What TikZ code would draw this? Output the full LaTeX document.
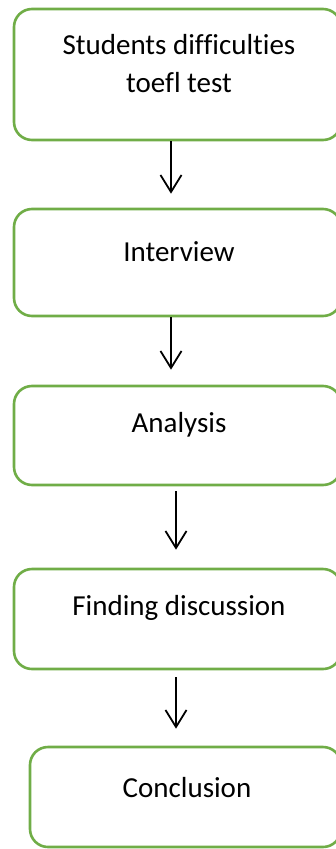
\documentclass[tikz,border=0pt]{standalone}
\usepackage{fontspec}
\setmainfont{Carlito}[Ligatures=CommonOff]
\usetikzlibrary{arrows.meta}
\definecolor{flowGreen}{HTML}{70AD47}
\tikzset{
  flow box/.style={draw=flowGreen, line width=2.6pt, rounded corners=18pt, fill=white},
  flow text/.style={font=\fontsize{29}{38}\selectfont, text=black, align=center, inner sep=0pt},
  flow arrow/.style={draw=black, line width=1.8pt, -{Straight Barb[length=17pt, width=21pt, line width=1.8pt]}},
}

\begin{document}
\begin{tikzpicture}[x=1pt, y=-1pt]
  \useasboundingbox (0,0) rectangle (336,849);
  \clip (0,0) rectangle (336,849);

  % Boxes, top to bottom (right side runs off the page)
  \node[flow box, minimum width=327pt, minimum height=131pt,
        label={[flow text, xshift=1.5pt, yshift=10.5pt]center:Students difficulties\\toefl test}]
    (stud) at (177.5,74.5) {};
  \node[flow box, minimum width=327pt, minimum height=107pt,
        label={[flow text, xshift=1.5pt, yshift=10.5pt]center:Interview}]
    (inter) at (177.5,262.5) {};
  \node[flow box, minimum width=327pt, minimum height=99pt,
        label={[flow text, xshift=1.5pt, yshift=10.5pt]center:Analysis}]
    (anal) at (177.5,435.5) {};
  \node[flow box, minimum width=327pt, minimum height=100pt,
        label={[flow text, xshift=1.5pt, yshift=11pt]center:Finding discussion}]
    (find) at (177.5,619) {};
  \node[flow box, minimum width=311pt, minimum height=100pt,
        label={[flow text, xshift=1.5pt, yshift=9pt]center:Conclusion}]
    (concl) at (185.5,797) {};

  % Arrows between the boxes
  \draw[flow arrow, shorten >=14pt] ([xshift=-6.5pt]stud.south) -- ([xshift=-6.5pt]inter.north);
  \draw[flow arrow, shorten >=15pt] ([xshift=-6.5pt]inter.south) -- ([xshift=-6.5pt]anal.north);
  \draw[flow arrow, shorten <=5pt, shorten >=18pt] ([xshift=-1.5pt]anal.south) -- ([xshift=-1.5pt]find.north);
  \draw[flow arrow, shorten <=7pt, shorten >=17pt] ([xshift=-1.5pt]find.south) -- ([xshift=-1.5pt]find.south |- concl.north);
\end{tikzpicture}
\end{document}
